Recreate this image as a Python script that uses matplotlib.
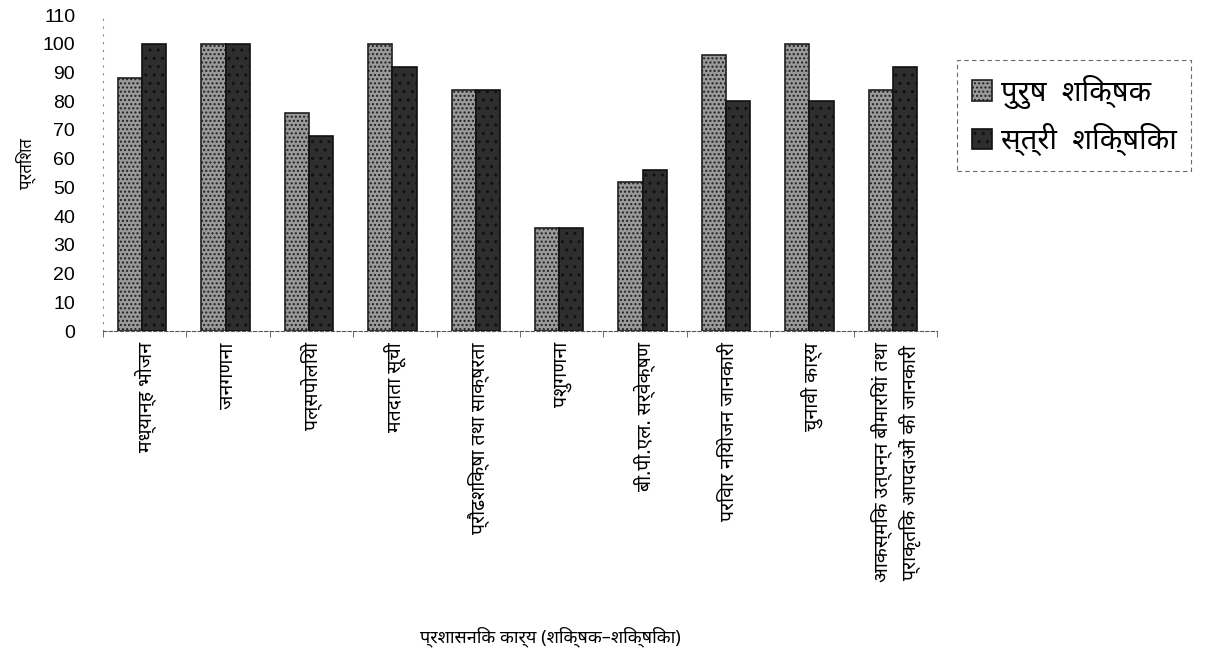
import matplotlib
matplotlib.use("Agg")
import matplotlib.pyplot as plt
import numpy as np

plt.rcParams['font.family'] = ['Noto Sans', 'Lato', 'DejaVu Sans']

categories = [
    "मध्यान्ह भोजन",
    "जनगणना",
    "पल्सपोलियो",
    "मतदाता सूची",
    "प्रौढशिक्षा तथा साक्षरता",
    "पशुगणना",
    "बी.पी.एल. सर्वेक्षण",
    "परिवार नियोजन जानकारी",
    "चुनावी कार्य",
    "आकस्मिक उत्पन्न बीमारियां तथा\nप्राकृतिक आपदाओं की जानकारी",
]
male = [88, 100, 76, 100, 84, 36, 52, 96, 100, 84]
female = [100, 100, 68, 92, 84, 36, 56, 80, 80, 92]
series_names = ["पुरुष  शिक्षक", "स्त्री  शिक्षिका"]
yticks = list(range(0, 111, 10))

fig = plt.figure(figsize=(12.07, 6.56), dpi=100)
ax = fig.add_axes([0.0853, 0.4954, 0.6910, 0.4817])

x = np.arange(len(categories))
w = 0.29
ax.bar(x - w / 2 - 0.03, male, w, color="#9a9a9a", edgecolor="#202020", linewidth=1.2,
       hatch="....", label=series_names[0])
ax.bar(x + w / 2 - 0.03, female, w, color="#2e2e2e", edgecolor="#101010", linewidth=1.2,
       hatch="..", label=series_names[1])

ax.set_xlim(-0.5, len(categories) - 0.5)
ax.set_ylim(0, 110)
ax.set_yticks(yticks)
ax.set_yticklabels([str(v) for v in yticks], fontsize=14, family="Liberation Sans")
ax.tick_params(axis="y", length=0, pad=20)

ax.set_xticks(x)
ax.set_xticklabels(categories, rotation=90, fontsize=14, va="top", ha="center",
                   linespacing=1.4)
ax.set_xticks(np.arange(len(categories) + 1) - 0.5, minor=True)
ax.tick_params(axis="x", which="major", length=0, pad=8)
ax.tick_params(axis="x", which="minor", length=4, color="#555555")

for s in ["top", "right"]:
    ax.spines[s].set_visible(False)
ax.spines["left"].set_linestyle((0, (1, 6)))
ax.spines["left"].set_color("#888888")
ax.spines["bottom"].set_linestyle((0, (3, 2)))
ax.spines["bottom"].set_color("#555555")

fig.text(0.021, 0.75, "प्रतिशत", fontsize=12, rotation=90, ha="center", va="center")

fig.text(0.456, 0.029, "प्रशासनिक कार्य (शिक्षक–शिक्षिका)", fontsize=13, ha="center", va="center")

leg = fig.legend(loc="upper left", bbox_to_anchor=(0.793, 0.9085), fontsize=21,
                 frameon=True, fancybox=False, handlelength=0.7, handleheight=0.7,
                 handletextpad=0.3, labelspacing=0.5, borderpad=0.5, borderaxespad=0)
leg.get_frame().set_edgecolor("#444444")
leg.get_frame().set_linestyle((0, (4, 3)))
leg.get_frame().set_linewidth(0.8)

fig.savefig("out.png", dpi=100)
